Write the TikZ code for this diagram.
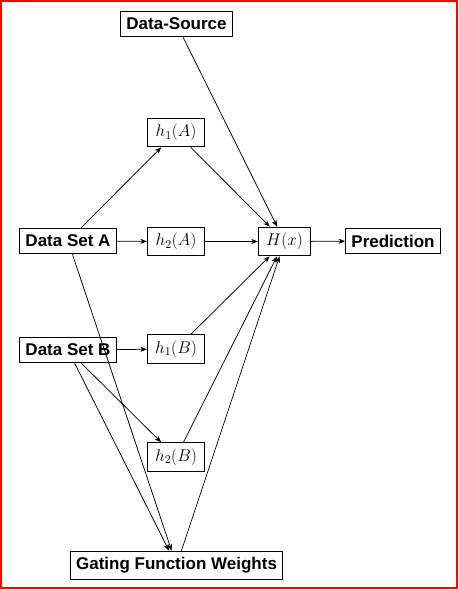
\RequirePackage{fix-cm}
\documentclass[tikz,border=0pt]{standalone}
\usepackage{fontspec}
\newfontfamily\hv{Liberation Sans}
\usetikzlibrary{arrows.meta}
\begin{document}
\begin{tikzpicture}[x=1pt,y=-1pt,
  every node/.style={font=\fontsize{17}{20}\selectfont},
  box/.style={draw, line width=1.1pt, inner sep=5.67pt},
  mbox/.style={box, minimum width=57pt, minimum height=28.5pt},
  lbl/.style={box, minimum height=25.5pt, font=\fontsize{17}{20}\selectfont\hv\bfseries},
  conn/.style={line width=0.75pt, -{Stealth[length=6.5pt,width=5pt,inset=1.8pt]}}]
\useasboundingbox (0,0) rectangle (458,589);
\draw[red, line width=1.6pt] (0.8,0.8) rectangle (457.2,588.2);
\node[lbl] (ds) at (176.5,24) {Data-Source};
\node[mbox] (h1a) at (176,132.5) {$h_1(A)$};
\node[lbl] (dsa) at (68,241) {Data Set A};
\node[mbox] (h2a) at (176,241.5) {$h_2(A)$};
\node[mbox, minimum width=52pt] (H) at (284.5,241.5) {$H(x)$};
\node[lbl] (pred) at (393,241) {Prediction};
\node[lbl] (dsb) at (68,350) {Data Set B};
\node[mbox] (h1b) at (176,349) {$h_1(B)$};
\node[mbox] (h2b) at (176,457) {$h_2(B)$};
\node[lbl, minimum height=28.5pt] (gate) at (176.5,565.5) {Gating Function Weights};
\draw[conn] (ds) -- (H);
\draw[conn] (dsa) -- (h1a);
\draw[conn] (dsa) -- (h2a);
\draw[conn] (dsa) -- (gate);
\draw[conn] (h1a) -- (H);
\draw[conn] (h2a) -- (H);
\draw[conn] (H) -- (pred);
\draw[conn] (dsb) -- (h1b);
\draw[conn] (dsb) -- (h2b);
\draw[conn] (dsb) -- (gate);
\draw[conn] (h1b) -- (H);
\draw[conn] (h2b) -- (H);
\draw[conn] (gate) -- (H);
\end{tikzpicture}
\end{document}
